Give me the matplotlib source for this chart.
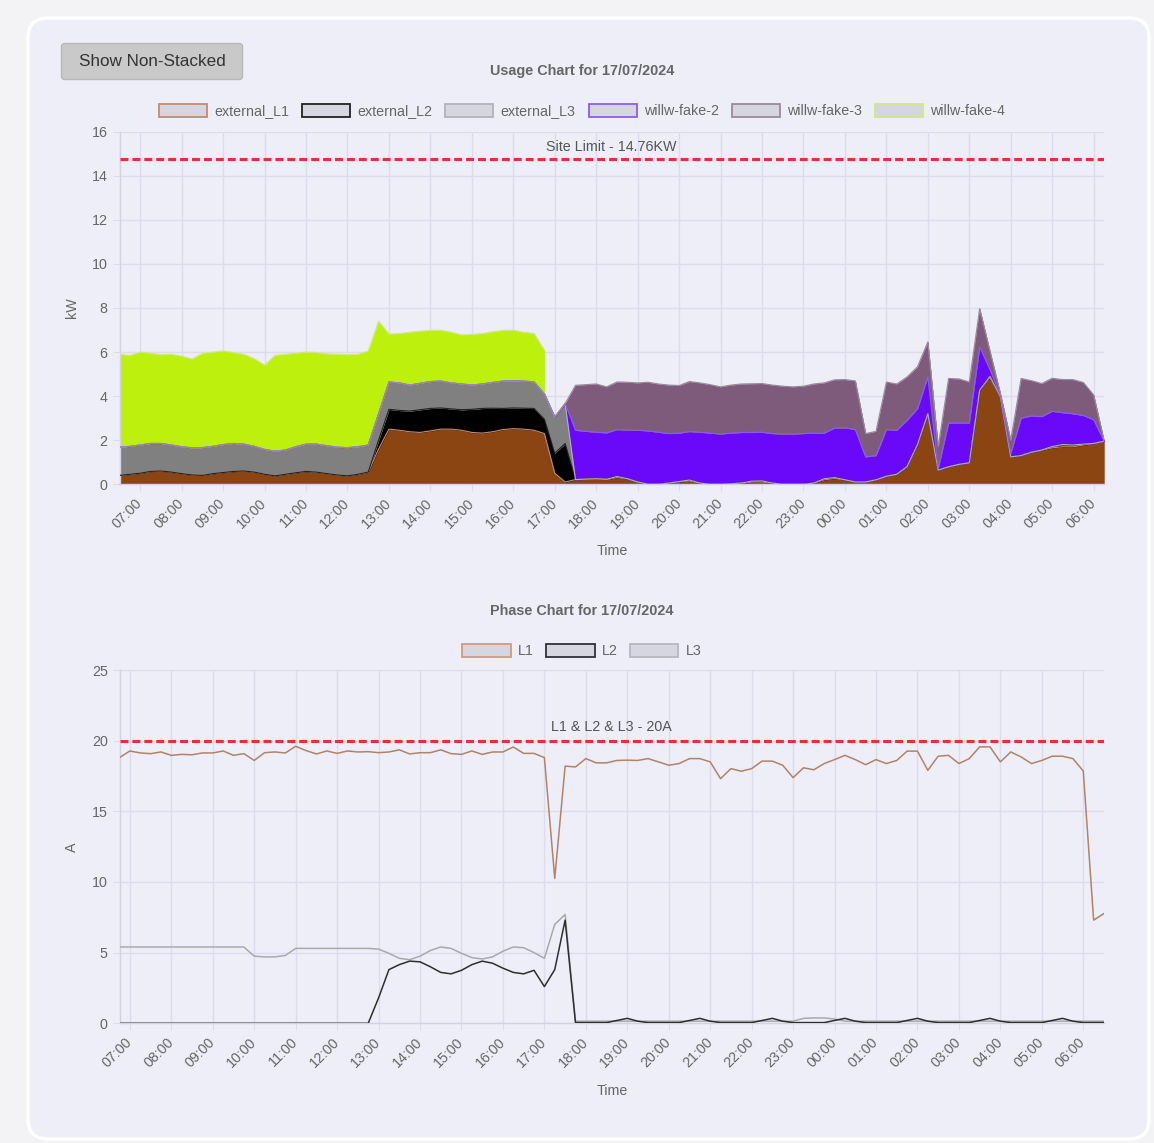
import numpy as np
import pandas as pd
import matplotlib
matplotlib.use("Agg")
import matplotlib.pyplot as plt
import matplotlib.dates as mdates
from matplotlib.patches import FancyBboxPatch, Patch

plt.rcParams["font.family"] = ["Liberation Sans", "DejaVu Sans"]

# ---------------------------------------------------------------- data
chart_date = "17/07/2024"
usage_start = "2024-07-17 06:30"   # first 15-minute reading of the usage chart
phase_start = "2024-07-17 06:45"   # first 15-minute reading of the phase chart
site_limit_kw = 14.76
phase_limit_a = 20

usage_series = ["external_L1", "external_L2", "external_L3",
                "willw-fake-2", "willw-fake-3", "willw-fake-4"]

external_L1 = [0.40, 0.45, 0.50, 0.58, 0.60, 0.55, 0.48, 0.42, 0.40, 0.48, 0.53, 0.58,
               0.60, 0.55, 0.45, 0.38, 0.45, 0.52, 0.58, 0.55, 0.48, 0.42, 0.38, 0.45,
               0.55, 1.60, 2.50, 2.45, 2.38, 2.35, 2.42, 2.50, 2.50, 2.45, 2.35, 2.32,
               2.38, 2.48, 2.52, 2.50, 2.45, 2.30, 0.50, 0.10, 0.21, 0.23, 0.25, 0.22,
               0.30, 0.25, 0.10, 0.00, 0.00, 0.05, 0.12, 0.15, 0.05, 0.00, 0.00, 0.02,
               0.05, 0.10, 0.10, 0.05, 0.00, 0.00, 0.00, 0.05, 0.20, 0.26, 0.20, 0.10,
               0.10, 0.20, 0.36, 0.45, 0.80, 1.80, 3.20, 0.64, 0.79, 0.90, 0.97, 4.27,
               4.85, 3.97, 1.24, 1.30, 1.45, 1.55, 1.65, 1.70, 1.70, 1.78, 1.85, 1.95]

external_L2 = [0, 0, 0, 0, 0, 0, 0, 0, 0, 0, 0, 0,
               0, 0, 0, 0, 0, 0, 0, 0, 0, 0, 0, 0,
               0, 0.40, 0.90, 0.90, 0.94, 1.03, 1.02, 0.96, 0.92, 0.93, 1.05, 1.12,
               1.07, 0.96, 0.94, 0.95, 0.99, 0.65, 0.90, 1.75, 0, 0, 0, 0,
               0.05, 0, 0, 0, 0, 0, 0, 0.04, 0, 0, 0, 0,
               0, 0.04, 0.05, 0, 0, 0, 0, 0, 0.05, 0.04, 0, 0,
               0, 0, 0, 0, 0, 0, 0, 0, 0, 0, 0, 0,
               0.05, 0, 0, 0, 0, 0, 0.06, 0.10, 0.08, 0.04, 0, 0]

external_L3 = [1.28, 1.27, 1.28, 1.27, 1.25, 1.23, 1.22, 1.23, 1.26, 1.24, 1.27, 1.27,
               1.22, 1.17, 1.13, 1.12, 1.10, 1.18, 1.24, 1.27, 1.27, 1.26, 1.28, 1.25,
               1.23, 1.20, 1.24, 1.25, 1.18, 1.20, 1.22, 1.22, 1.18, 1.17, 1.10, 1.11,
               1.17, 1.24, 1.24, 1.23, 1.21, 1.15, 1.65, 1.81, 0, 0, 0, 0,
               0, 0, 0, 0, 0, 0, 0, 0, 0, 0, 0, 0,
               0, 0, 0, 0, 0, 0, 0, 0, 0, 0, 0, 0,
               0, 0, 0, 0, 0, 0, 0, 0, 0, 0, 0, 0,
               0, 0, 0, 0, 0, 0, 0, 0, 0, 0, 0, 0]

willw_fake_2 = [0, 0, 0, 0, 0, 0, 0, 0, 0, 0, 0, 0,
                0, 0, 0, 0, 0, 0, 0, 0, 0, 0, 0, 0,
                0, 0, 0, 0, 0, 0, 0, 0, 0, 0, 0, 0,
                0, 0, 0, 0, 0, 0, 0, 0, 2.24, 2.17, 2.11, 2.11,
                2.13, 2.21, 2.35, 2.42, 2.36, 2.25, 2.20, 2.20, 2.31, 2.32, 2.28, 2.30,
                2.30, 2.21, 2.21, 2.25, 2.28, 2.28, 2.30, 2.27, 2.07, 2.25, 2.36, 2.38,
                1.14, 1.10, 2.12, 2.00, 2.10, 1.63, 1.67, 0.07, 1.99, 1.88, 1.81, 1.96,
                0.30, 0.05, 0.16, 1.70, 1.65, 1.52, 1.60, 1.45, 1.42, 1.30, 1.08, 0.02]

willw_fake_3 = [0, 0, 0, 0, 0, 0, 0, 0, 0, 0, 0, 0,
                0, 0, 0, 0, 0, 0, 0, 0, 0, 0, 0, 0,
                0, 0, 0, 0, 0, 0, 0, 0, 0, 0, 0, 0,
                0, 0, 0, 0, 0, 0, 0, 0, 2.04, 2.12, 2.19, 2.09,
                2.16, 2.17, 2.15, 2.21, 2.19, 2.20, 2.16, 2.27, 2.24, 2.20, 2.14, 2.18,
                2.20, 2.21, 2.21, 2.20, 2.17, 2.14, 2.15, 2.23, 2.28, 2.19, 2.19, 2.21,
                1.06, 1.10, 2.16, 2.10, 1.97, 1.90, 1.59, 0.99, 2.02, 2.00, 1.86, 1.74,
                0.83, 0.10, 0.60, 1.80, 1.60, 1.50, 1.50, 1.50, 1.55, 1.50, 1.12, 0.02]

nan = float("nan")
willw_fake_4 = [4.22, 4.13, 4.22, 4.10, 4.03, 4.12, 4.12, 4.03, 4.29, 4.28, 4.25, 4.13,
                4.08, 3.98, 3.82, 4.35, 4.35, 4.25, 4.18, 4.16, 4.17, 4.22, 4.22, 4.20,
                4.27, 4.20, 2.18, 2.24, 2.40, 2.37, 2.32, 2.31, 2.30, 2.23, 2.30, 2.29,
                2.30, 2.30, 2.29, 2.22, 2.19, 1.98, nan, nan, nan, nan, nan, nan,
                nan, nan, nan, nan, nan, nan, nan, nan, nan, nan, nan, nan,
                nan, nan, nan, nan, nan, nan, nan, nan, nan, nan, nan, nan,
                nan, nan, nan, nan, nan, nan, nan, nan, nan, nan, nan, nan,
                nan, nan, nan, nan, nan, nan, nan, nan, nan, nan, nan, nan]

phase_series = ["L1", "L2", "L3"]

phase_L1 = [18.80, 19.27, 19.13, 19.08, 19.20, 18.96, 19.03, 19.00, 19.13, 19.13, 19.27, 18.96,
            19.08, 18.60, 19.15, 19.20, 19.13, 19.60, 19.30, 19.06, 19.27, 19.10, 19.27, 19.20,
            19.22, 19.15, 19.20, 19.35, 19.06, 19.15, 19.15, 19.35, 19.08, 19.03, 19.27, 19.03,
            19.20, 19.20, 19.55, 19.10, 19.10, 18.80, 10.25, 18.20, 18.14, 18.73, 18.43, 18.43,
            18.60, 18.62, 18.60, 18.73, 18.50, 18.26, 18.38, 18.73, 18.73, 18.50, 17.31, 18.02,
            17.84, 18.02, 18.55, 18.55, 18.26, 17.38, 18.08, 17.94, 18.38, 18.66, 18.96, 18.66,
            18.30, 18.66, 18.38, 18.60, 19.26, 19.26, 17.90, 18.90, 18.96, 18.38, 18.73, 19.56,
            19.56, 18.50, 19.20, 18.85, 18.38, 18.60, 18.90, 18.90, 18.73, 17.85, 7.30, 7.77]

phase_L2 = [0, 0, 0, 0, 0, 0, 0, 0, 0, 0, 0, 0,
            0, 0, 0, 0, 0, 0, 0, 0, 0, 0, 0, 0,
            0, 1.80, 3.80, 4.15, 4.40, 4.35, 4.00, 3.60, 3.50, 3.75, 4.15, 4.40,
            4.25, 3.90, 3.60, 3.50, 3.75, 2.60, 3.80, 7.30, 0.05, 0.05, 0.05, 0.05,
            0.20, 0.35, 0.15, 0.05, 0.05, 0.05, 0.05, 0.20, 0.35, 0.15, 0.05, 0.05,
            0.05, 0.05, 0.20, 0.35, 0.15, 0.05, 0.05, 0.05, 0.05, 0.20, 0.35, 0.15,
            0.05, 0.05, 0.05, 0.05, 0.20, 0.35, 0.15, 0.05, 0.05, 0.05, 0.05, 0.20,
            0.35, 0.15, 0.05, 0.05, 0.05, 0.05, 0.20, 0.35, 0.15, 0.05, 0.05, 0.05]

phase_L3 = [5.40, 5.40, 5.40, 5.40, 5.40, 5.40, 5.40, 5.40, 5.40, 5.40, 5.40, 5.40,
            5.40, 4.75, 4.70, 4.70, 4.80, 5.30, 5.30, 5.30, 5.30, 5.30, 5.30, 5.30,
            5.30, 5.25, 4.95, 4.60, 4.50, 4.75, 5.15, 5.40, 5.30, 4.95, 4.65, 4.55,
            4.70, 5.10, 5.40, 5.35, 5.00, 4.60, 7.00, 7.70, 0.15, 0.15, 0.15, 0.15,
            0.15, 0.15, 0.15, 0.15, 0.15, 0.15, 0.15, 0.15, 0.15, 0.15, 0.15, 0.15,
            0.15, 0.15, 0.15, 0.15, 0.15, 0.15, 0.35, 0.38, 0.38, 0.30, 0.15, 0.15,
            0.15, 0.15, 0.15, 0.15, 0.15, 0.15, 0.15, 0.15, 0.15, 0.15, 0.15, 0.15,
            0.15, 0.15, 0.15, 0.15, 0.15, 0.15, 0.15, 0.15, 0.15, 0.15, 0.15, 0.15]

# ---------------------------------------------------------------- style
W, H, DPI = 1154, 1143, 100
PAGE = "#f3f3f5"
CARD = "#eeeef9"
GRID = "#dcdcec"
AXIS = "#d2d2e2"
TXT = "#666666"
RED = "#e3303c"
FS = 10.3

usage_fill = ["#8b4513", "#000000", "#808080", "#6a08fa", "#7e5a7b", "#bef00e"]
usage_edge = ["#c58a6e", "#222222", "#b2b2ba", "#8a5cf2", "#9a8a9c", "#d2e886"]
phase_line = ["#b08466", "#2e2e2e", "#a9a9ad"]
phase_edge = ["#d49a78", "#30303a", "#b8b8c0"]
LEG_FACE = "#d6d6e0"


def fx(x):
    return x / W


def fy(y):
    return 1 - y / H


fig = plt.figure(figsize=(W / DPI, H / DPI), dpi=DPI)
fig.patch.set_facecolor(PAGE)

# page layer in pixel coordinates: card, button and free-standing labels
bg = fig.add_axes([0, 0, 1, 1], zorder=-5)
bg.set_xlim(0, W)
bg.set_ylim(H, 0)
bg.axis("off")
bg.add_patch(FancyBboxPatch((28, 18), 1121, 1121,
                            boxstyle="round,pad=0,rounding_size=20",
                            fc=CARD, ec="white", lw=2.5))
bg.add_patch(FancyBboxPatch((61.5, 43.5), 181, 36,
                            boxstyle="round,pad=0,rounding_size=3",
                            fc="#c9c9c9", ec="#b8b8b8", lw=1))
bg.text(152, 61, "Show Non-Stacked", ha="center", va="center",
        fontsize=12.3, color="#333333")


def style_axes(ax, ymax, ystep, t0, t1):
    ax.set_facecolor("none")
    ax.set_xlim(t0, t1)
    ax.set_ylim(0, ymax)
    ax.set_yticks(np.arange(0, ymax + 0.1, ystep))
    ax.xaxis.set_major_locator(mdates.HourLocator())
    ax.xaxis.set_major_formatter(mdates.DateFormatter("%H:%M"))
    ax.grid(True, color=GRID, lw=1.0)
    ax.set_axisbelow(True)
    for s in ("top", "right"):
        ax.spines[s].set_visible(False)
    for s in ("left", "bottom"):
        ax.spines[s].set_color(AXIS)
        ax.spines[s].set_linewidth(1.0)
    ax.tick_params(axis="both", length=5, width=0.8, color=GRID,
                   labelcolor=TXT, labelsize=FS)
    ax.tick_params(axis="y", pad=3.5)
    ax.tick_params(axis="x", pad=7, labelrotation=45)
    for lab in ax.get_xticklabels():
        lab.set_ha("right")
        lab.set_va("center")
        lab.set_rotation_mode("anchor")


# ---------------------------------------------------------------- usage chart
t_usage = mdates.date2num(pd.date_range(usage_start, periods=len(external_L1),
                                        freq="15min").to_numpy())
ax1 = fig.add_axes([fx(119.5), fy(484.2), (1104 - 119.5) / W, (484.2 - 131.7) / H])
style_axes(ax1, 16, 2, t_usage[0], t_usage[-1])

base = np.zeros(len(t_usage))
stack = [external_L1, external_L2, external_L3, willw_fake_2, willw_fake_3, willw_fake_4]
for vals, fc, ec in zip(stack, usage_fill, usage_edge):
    v = np.array(vals, dtype=float)
    valid = ~np.isnan(v)
    top = base + np.nan_to_num(v)
    ax1.fill_between(t_usage, base, top, where=valid, interpolate=False,
                     facecolor=fc, edgecolor=fc, lw=0.3, zorder=2)
    ax1.plot(t_usage, np.where(valid, top, np.nan), color=ec, lw=0.8, zorder=3)
    base = top

ax1.axhline(site_limit_kw, color=RED, lw=2.2, dashes=(2.6, 1.3), zorder=4)
ax1.annotate(f"Site Limit - {site_limit_kw}KW", xy=(0.5, site_limit_kw),
             xycoords=("axes fraction", "data"), xytext=(0, 9),
             textcoords="offset points", ha="center", va="center",
             fontsize=FS, color="#555555")

bg.text(582, 71, f"Usage Chart for {chart_date}", ha="center", va="center",
        fontsize=10.4, fontweight="bold", color=TXT)
bg.text(72, 308, "kW", ha="center", va="center", rotation=90, fontsize=FS, color=TXT)
bg.text(612, 551, "Time", ha="center", va="center", fontsize=FS, color=TXT)

usage_handles = [Patch(facecolor=LEG_FACE, edgecolor=ec, lw=1.3) for ec in usage_edge]
fig.legend(usage_handles, usage_series, loc="center",
           bbox_to_anchor=(fx(582), fy(111)), bbox_transform=fig.transFigure,
           ncol=6, frameon=False, fontsize=FS, labelcolor=TXT,
           handlelength=3.36, handleheight=1.0, handletextpad=0.5,
           columnspacing=0.9, borderpad=0, borderaxespad=0)

# ---------------------------------------------------------------- phase chart
t_phase = mdates.date2num(pd.date_range(phase_start, periods=len(phase_L1),
                                        freq="15min").to_numpy())
ax2 = fig.add_axes([fx(119.5), fy(1023.3), (1104 - 119.5) / W, (1023.3 - 670) / H])
style_axes(ax2, 25, 5, t_phase[0], t_phase[-1])

for vals, col, z in zip([phase_L1, phase_L2, phase_L3], phase_line, [5, 4, 3]):
    ax2.plot(t_phase, vals, color=col, lw=1.1, zorder=z)

ax2.axhline(phase_limit_a, color=RED, lw=2.2, dashes=(2.6, 1.3), zorder=6)
ax2.annotate(f"L1 & L2 & L3 - {phase_limit_a}A", xy=(0.5, phase_limit_a),
             xycoords=("axes fraction", "data"), xytext=(0, 9.5),
             textcoords="offset points", ha="center", va="center",
             fontsize=FS, color="#555555")

bg.text(582, 611, f"Phase Chart for {chart_date}", ha="center", va="center",
        fontsize=10.4, fontweight="bold", color=TXT)
bg.text(72, 847, "A", ha="center", va="center", rotation=90, fontsize=FS, color=TXT)
bg.text(612, 1091, "Time", ha="center", va="center", fontsize=FS, color=TXT)

phase_handles = [Patch(facecolor=LEG_FACE, edgecolor=ec, lw=1.3) for ec in phase_edge]
fig.legend(phase_handles, phase_series, loc="center",
           bbox_to_anchor=(fx(582), fy(651)), bbox_transform=fig.transFigure,
           ncol=3, frameon=False, fontsize=FS, labelcolor=TXT,
           handlelength=3.36, handleheight=1.0, handletextpad=0.5,
           columnspacing=0.9, borderpad=0, borderaxespad=0)

fig.savefig("out.png", dpi=DPI, facecolor=PAGE)
